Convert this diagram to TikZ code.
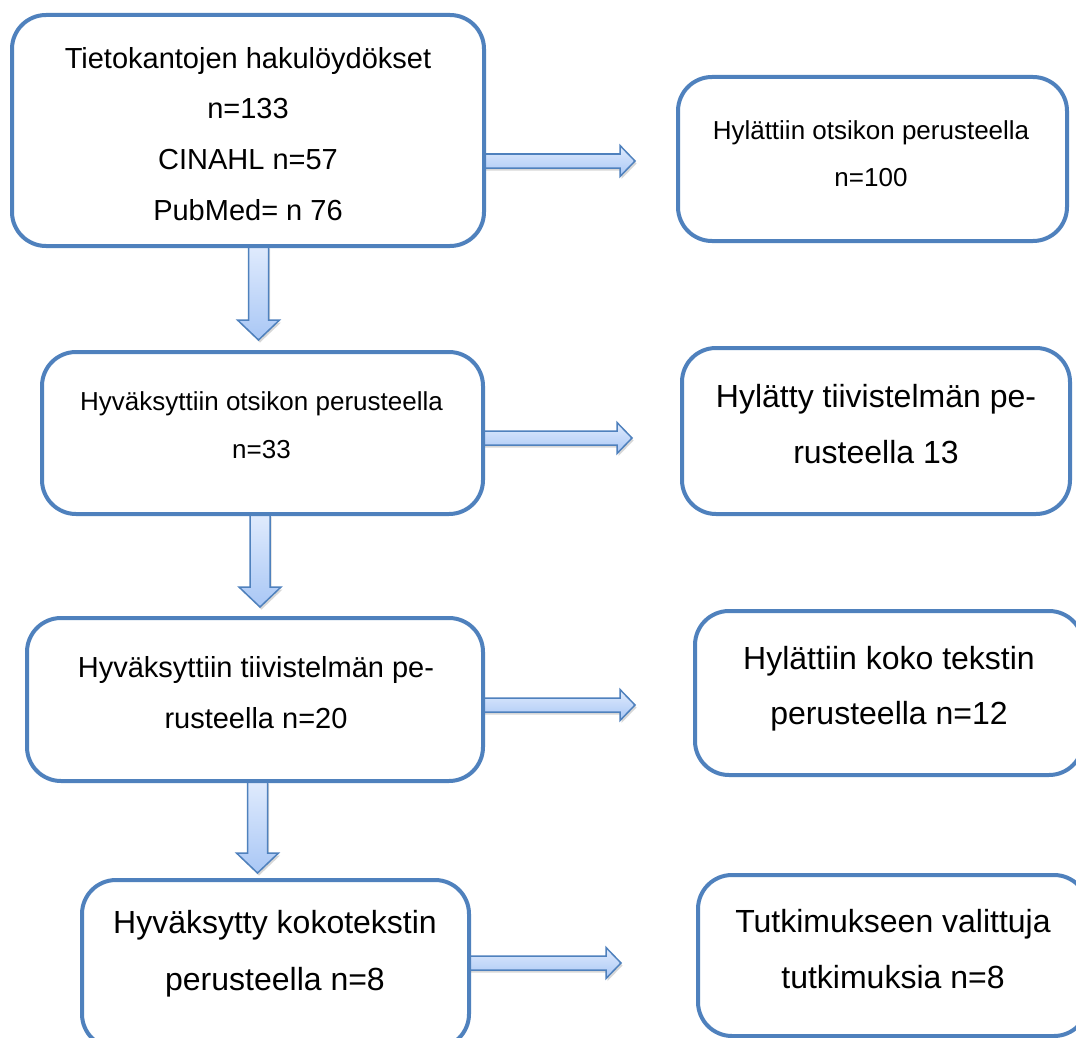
\documentclass[tikz,border=0pt]{standalone}
\usepackage{fontspec}
\setmainfont{Liberation Sans}
\usetikzlibrary{calc,shadows,backgrounds}
\definecolor{boxblue}{HTML}{4F81BD}
\definecolor{alight}{HTML}{E0EBFD}
\definecolor{adark}{HTML}{A9C7F5}
\tikzset{
  rbox/.style={draw=boxblue, line width=4pt, rounded corners=34pt, fill=white,
    inner sep=0pt, outer sep=0pt},
  ln/.style={inner sep=0pt, anchor=base, text=black, font=\fsz{#1}},
  barrow/.style={draw=boxblue, line width=1.5pt, top color=alight, bottom color=adark,
    drop shadow={shadow xshift=1.5pt, shadow yshift=-2.5pt, opacity=0.22, fill=black!70}},
}
\newcommand{\fsz}[1]{\fontsize{#1}{#1}\selectfont}
% vertical block arrow: start, tip
\newcommand{\darrow}[2]{%
  \path[barrow] ($(#1)+(-10,0)$) -- ($(#2)+(-10,-20)$) -- ($(#2)+(-21,-20)$) -- (#2)
    -- ($(#2)+(21,-20)$) -- ($(#2)+(10,-20)$) -- ($(#1)+(10,0)$) -- cycle;}
% horizontal block arrow: start, tip
\newcommand{\rarrow}[2]{%
  \path[barrow] ($(#1)+(0,-7)$) -- ($(#2)+(-15,-7)$) -- ($(#2)+(-15,-15.5)$) -- (#2)
    -- ($(#2)+(-15,15.5)$) -- ($(#2)+(-15,7)$) -- ($(#1)+(0,7)$) -- cycle;}
\begin{document}
\begin{tikzpicture}[x=1pt,y=-1pt]
\useasboundingbox (0,0) rectangle (1076,1038);
\clip (0,0) rectangle (1076,1038);

% boxes
\node[rbox, minimum width=472pt, minimum height=231pt] (b1) at (248,130.5) {};
\node[rbox, minimum width=441pt, minimum height=162pt] (b2) at (262.5,433) {};
\node[rbox, minimum width=456pt, minimum height=163pt] (b3) at (255,699.5) {};
\node[rbox, minimum width=387pt, minimum height=168pt] (b4) at (275.5,964) {};
\node[rbox, minimum width=389pt, minimum height=164pt] (r1) at (872.5,159) {};
\node[rbox, minimum width=388pt, minimum height=166pt] (r2) at (876,431) {};
\node[rbox, minimum width=388pt, minimum height=164pt] (r3) at (889,693) {};
\node[rbox, minimum width=390pt, minimum height=161pt] (r4) at (893,955.5) {};

% texts (positioned at their baselines)
\node[ln=29] (b1l1) at (248,68.4) {Tietokantojen hakulöydökset};
\node[ln=29] (b1l2) at (248,118.4) {n=133};
\node[ln=29] (b1l3) at (248,169.4) {CINAHL n=57};
\node[ln=29] (b1l4) at (248,220.4) {PubMed= n 76};

\node[ln=26] (b2l1) at (261.5,410.3) {Hyväksyttiin otsikon perusteella};
\node[ln=26] (b2l2) at (261.5,458.3) {n=33};

\node[ln=29] (b3l1) at (256,677.4) {Hyväksyttiin tiivistelmän pe-};
\node[ln=29] (b3l2) at (256,728.4) {rusteella n=20};

\node[ln=32] (b4l1) at (275,933.5) {Hyväksytty kokotekstin};
\node[ln=32] (b4l2) at (275,990.5) {perusteella n=8};

\node[ln=26] (r1l1) at (871,139.3) {Hylättiin otsikon perusteella};
\node[ln=26] (r1l2) at (871,186.3) {n=100};

\node[ln=32] (r2l1) at (876,407.5) {Hylätty tiivistelmän pe-};
\node[ln=32] (r2l2) at (876,463.5) {rusteella 13};

\node[ln=32] (r3l1) at (889,669) {Hylättiin koko tekstin};
\node[ln=32] (r3l2) at (889,724.5) {perusteella n=12};

\node[ln=32] (r4l1) at (893,932.5) {Tutkimukseen valittuja};
\node[ln=32] (r4l2) at (893,988.5) {tutkimuksia n=8};

% arrow end points
\coordinate (d1s) at ($(b1.south)+(10.5,0)$);
\coordinate (d1t) at ($(b2.north)+(-4,-12)$);
\coordinate (d2s) at ($(b2.south)+(-2.5,0)$);
\coordinate (d2t) at ($(b3.north)+(5,-11)$);
\coordinate (d3s) at ($(b3.south)+(2.5,0)$);
\coordinate (d3t) at ($(b4.north)+(-18,-7)$);
\coordinate (a1s) at ($(b1.east)+(0,30.5)$);
\coordinate (a1t) at ($(r1.west)+(-43,2)$);
\coordinate (a2s) at ($(b2.east)+(0,5)$);
\coordinate (a2t) at ($(r2.west)+(-50,7)$);
\coordinate (a3s) at ($(b3.east)+(0,5.5)$);
\coordinate (a3t) at ($(r3.west)+(-60,12)$);
\coordinate (a4s) at ($(b4.east)+(0,-1)$);
\coordinate (a4t) at ($(r4.west)+(-77,7.5)$);

\begin{pgfonlayer}{background}
  \fill[white] (0,0) rectangle (1076,1038);
  \darrow{d1s}{d1t}
  \darrow{d2s}{d2t}
  \darrow{d3s}{d3t}
  \rarrow{a1s}{a1t}
  \rarrow{a2s}{a2t}
  \rarrow{a3s}{a3t}
  \rarrow{a4s}{a4t}
\end{pgfonlayer}
\end{tikzpicture}
\end{document}
